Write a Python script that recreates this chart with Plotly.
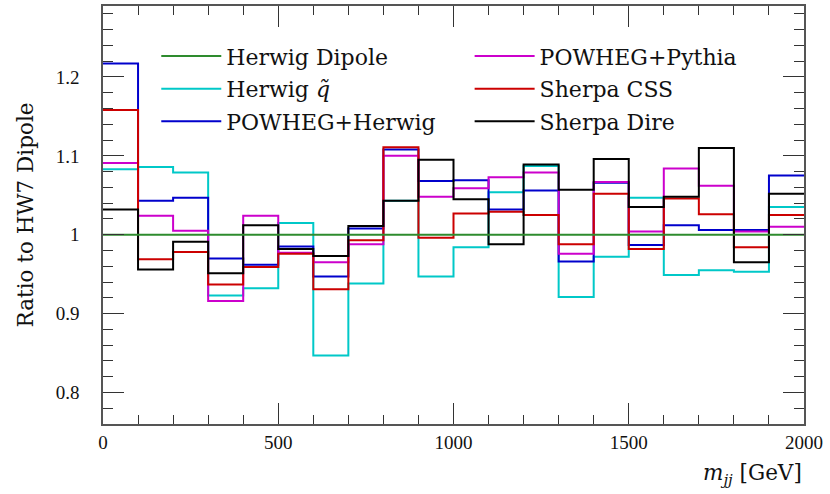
import plotly.graph_objects as go

# ---- data ----
bin_edges = [0, 100, 200, 300, 400, 500, 600, 700, 800, 900, 1000,
             1100, 1200, 1300, 1400, 1500, 1600, 1700, 1800, 1900, 2000]
herwig_dipole = [1.0, 1.0, 1.0, 1.0, 1.0, 1.0, 1.0, 1.0, 1.0, 1.0,
                 1.0, 1.0, 1.0, 1.0, 1.0, 1.0, 1.0, 1.0, 1.0, 1.0]
herwig_qtilde = [1.083, 1.086, 1.079, 0.923, 0.932, 1.015, 0.847, 0.938, 1.043, 0.947,
                 0.984, 1.054, 1.087, 0.921, 0.972, 1.047, 0.949, 0.955, 0.953, 1.035]
powheg_herwig = [1.217, 1.043, 1.047, 0.970, 0.962, 0.985, 0.947, 1.008, 1.108, 1.068,
                 1.069, 1.032, 1.056, 0.966, 1.066, 0.987, 1.012, 1.006, 1.006, 1.075]
powheg_pythia = [1.091, 1.024, 1.005, 0.916, 1.024, 0.977, 0.965, 0.988, 1.100, 1.048,
                 1.059, 1.073, 1.079, 0.976, 1.067, 1.004, 1.084, 1.062, 1.004, 1.010]
sherpa_css = [1.158, 0.969, 0.978, 0.937, 0.959, 0.976, 0.931, 0.993, 1.111, 0.996,
              1.027, 1.029, 1.025, 0.988, 1.052, 0.982, 1.046, 1.026, 0.984, 1.025]
sherpa_dire = [1.032, 0.956, 0.991, 0.951, 1.012, 0.982, 0.973, 1.011, 1.043, 1.095,
               1.045, 0.988, 1.089, 1.057, 1.096, 1.035, 1.048, 1.110, 0.965, 1.052]

y_tick_vals = [0.8, 0.9, 1.0, 1.1, 1.2]
y_tick_text = ["0.8", "0.9", "1", "1.1", "1.2"]
x_tick_vals = [0, 500, 1000, 1500, 2000]
x_tick_text = ["0", "500", "1000", "1500", "2000"]

FONT = "DejaVu Serif"
TICKFONT = "Liberation Serif"

series = [
    # name, values, color, legend, rank
    ("Herwig <i>q\u0303</i>", herwig_qtilde, "#00c8c8", "legend", 2),
    ("POWHEG+Herwig", powheg_herwig, "#0000cc", "legend", 3),
    ("POWHEG+Pythia", powheg_pythia, "#cc00cc", "legend2", 1),
    ("Sherpa CSS", sherpa_css, "#cc0000", "legend2", 2),
    ("Sherpa Dire", sherpa_dire, "#000000", "legend2", 3),
    ("Herwig Dipole", herwig_dipole, "#2e8b2e", "legend", 1),
]

fig = go.Figure()
for name, vals, color, leg, rank in series:
    fig.add_trace(go.Scatter(
        x=bin_edges, y=vals + [vals[-1]], mode="lines", line_shape="hv",
        line=dict(color=color, width=2), name=name, legend=leg,
        legendrank=rank, legendgroup=name, hoverinfo="skip",
    ))

axis_common = dict(
    showgrid=False, zeroline=False, showline=True, linecolor="#555555",
    linewidth=1.5, mirror="allticks", ticks="inside", tickcolor="#333333",
    tickwidth=1, ticklen=21,
    tickfont=dict(family=TICKFONT, size=19, color="#111111"),
)

fig.update_xaxes(
    **axis_common, range=[0, 2000], tickvals=x_tick_vals, ticktext=x_tick_text,
    minor=dict(dtick=100, ticks="inside", ticklen=9, tickcolor="#333333", tickwidth=1),
    ticklabelstandoff=0,
)
fig.update_yaxes(
    **axis_common, range=[0.76, 1.29], tickvals=y_tick_vals, ticktext=y_tick_text,
    minor=dict(dtick=0.02, tick0=0, ticks="inside", ticklen=10, tickcolor="#333333", tickwidth=1),
    ticklabelstandoff=18,
    title=dict(text="Ratio to HW7 Dipole", font=dict(family=FONT, size=21.5, color="#111111"),
               standoff=16),
)

leg_common = dict(
    bgcolor="rgba(0,0,0,0)", borderwidth=0, orientation="v",
    font=dict(family=FONT, size=22, color="#111111"),
    tracegroupgap=1, itemwidth=60, yanchor="top", xanchor="left",
)
fig.update_layout(
    width=830, height=494,
    margin=dict(l=103, r=26, t=4, b=70),
    paper_bgcolor="white", plot_bgcolor="white",
    showlegend=True,
    legend=dict(**leg_common, x=0.076, y=0.93),
    legend2=dict(**leg_common, x=0.523, y=0.93),
    annotations=[dict(
        text="<i>m</i><sub><i>jj</i></sub> [GeV]", xref="paper", yref="paper",
        x=1.0, y=-0.082, xanchor="right", yanchor="top", showarrow=False,
        font=dict(family=FONT, size=21.5, color="#111111"),
    )],
)

fig.write_html("out.html", config={"displayModeBar": False},
               post_script="document.body.style.margin='0';")
